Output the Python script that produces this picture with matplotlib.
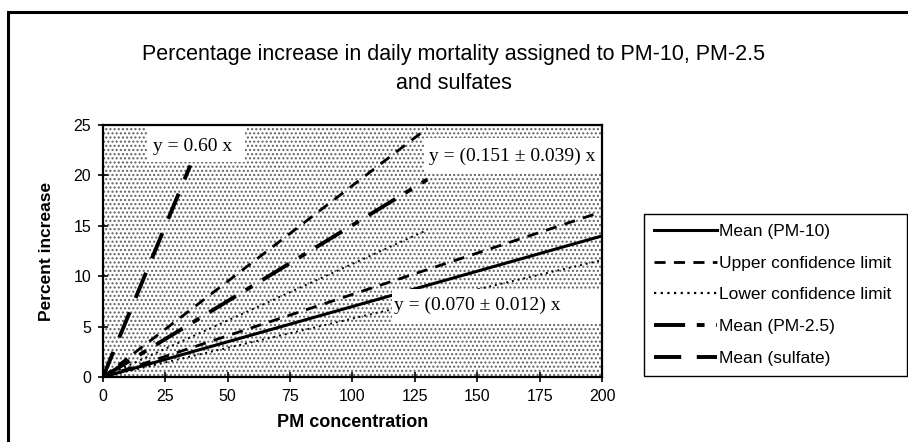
import matplotlib.pyplot as plt
from matplotlib.patches import Rectangle
from matplotlib.lines import Line2D

# end points of the fitted lines
pm10_x = [0, 200]
pm10_mean = [0, 14.0]
pm10_upper = [0, 16.4]
pm10_lower = [0, 11.6]

pm25_x = [0, 130]
pm25_mean = [0, 19.6]
pm25_upper = [0, 24.7]
pm25_lower = [0, 14.6]

sulfate_x = [0, 35]
sulfate_mean = [0, 21.0]

x_ticks = [0, 25, 50, 75, 100, 125, 150, 175, 200]
y_ticks = [0, 5, 10, 15, 20, 25]

eq_sulfate = "y = 0.60 x"
eq_pm25 = "y = (0.151 \u00b1 0.039) x"
eq_pm10 = "y = (0.070 \u00b1 0.012) x"

legend_labels = ["Mean (PM-10)", "Upper confidence limit", "Lower confidence limit",
                 "Mean (PM-2.5)", "Mean (sulfate)"]

plt.rcParams["font.family"] = ["Liberation Sans", "DejaVu Sans"]
plt.rcParams["hatch.linewidth"] = 1.0

fig = plt.figure(figsize=(9.08, 4.42), dpi=100)
ax = fig.add_axes([0.1134, 0.147, 0.5496, 0.570])

# stippled plot background
ax.add_patch(Rectangle((0, 0), 1, 1, transform=ax.transAxes, facecolor="white",
                       edgecolor="#606060", linewidth=0, hatch="....", zorder=0))

lw = 1.8
ax.plot(pm10_x, pm10_mean, color="black", lw=2.2, ls="-", zorder=3)
ax.plot(pm10_x, pm10_upper, color="black", lw=2.0, ls=(0, (4, 3)), zorder=3)
ax.plot(pm10_x, pm10_lower, color="black", lw=1.4, ls=(0, (1, 2)), zorder=3)
ax.plot(pm25_x, pm25_mean, color="black", lw=2.8, ls=(0, (8, 3, 2, 3)), zorder=3)
ax.plot(pm25_x, pm25_upper, color="black", lw=2.0, ls=(0, (4, 3)), zorder=3)
ax.plot(pm25_x, pm25_lower, color="black", lw=1.4, ls=(0, (1, 2)), zorder=3)
ax.plot(sulfate_x, sulfate_mean, color="black", lw=2.8, ls=(0, (7, 4)), zorder=3)

# white boxes behind the equations (they hide what is under them)
serif = ["Liberation Serif", "DejaVu Serif"]
for (x0, y0, w, h) in [(17.6, 21.3, 39.4, 3.7), (128.5, 20.3, 71.5, 3.4), (116, 5.3, 84, 3.4)]:
    ax.add_patch(Rectangle((x0, y0), w, h, facecolor="white", edgecolor="none", zorder=3.5))

ax.text(20, 22.9, eq_sulfate, family=serif, fontsize=14, va="center", zorder=4)
ax.text(130.5, 21.9, eq_pm25, family=serif, fontsize=14, va="center", zorder=4)
ax.text(116.5, 7.1, eq_pm10, family=serif, fontsize=14, va="center", zorder=4)

ax.set_xlim(0, 200)
ax.set_ylim(0, 25)
ax.set_xticks(x_ticks)
ax.set_yticks(y_ticks)
ax.tick_params(direction="inout", length=7, width=1.2, labelsize=11.5, pad=5)
for s in ax.spines.values():
    s.set_linewidth(1.6)
    s.set_zorder(5)
ax.set_xlabel("PM concentration", fontsize=13, fontweight="bold", labelpad=7)
ax.set_ylabel("Percent increase", fontsize=12.5, fontweight="bold", labelpad=14)

fig.text(0.5, 0.844, "Percentage increase in daily mortality assigned to PM-10, PM-2.5\nand sulfates",
         ha="center", va="center", fontsize=15.5, linespacing=1.45)

handles = [
    Line2D([], [], color="black", lw=2.2, ls="-"),
    Line2D([], [], color="black", lw=2.0, ls=(0, (4, 3))),
    Line2D([], [], color="black", lw=1.6, ls=(0, (1, 2))),
    Line2D([], [], color="black", lw=2.8, ls=(0, (8, 3, 2, 3))),
    Line2D([], [], color="black", lw=2.8, ls=(0, (7, 4))),
]
leg = fig.legend(handles, legend_labels, loc="lower left",
                 bbox_to_anchor=(0.709, 0.149, 0.290, 0.357), mode="expand",
                 borderaxespad=0, fontsize=12.5, handlelength=3.6, handletextpad=0.15,
                 labelspacing=0.95, borderpad=0.6, fancybox=False, framealpha=1,
                 edgecolor="black")
leg.get_frame().set_linewidth(1.0)

# outer chart border, cut by the picture edges
fig.add_artist(Rectangle((0.0088, -0.05), 1.05, 0.973 + 0.05, transform=fig.transFigure,
                         facecolor="none", edgecolor="black", lw=2.2))

fig.savefig("out.png", dpi=100)
